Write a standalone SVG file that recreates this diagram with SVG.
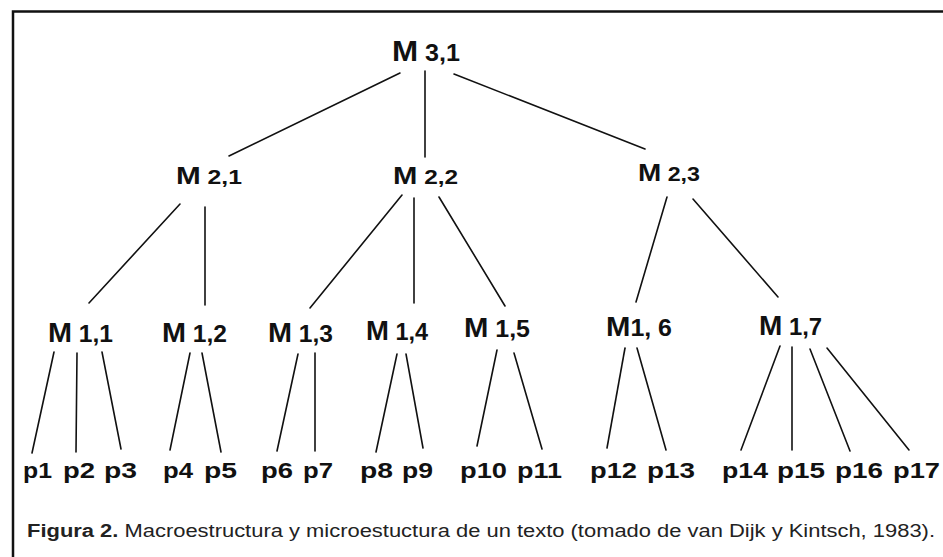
<svg xmlns="http://www.w3.org/2000/svg" width="943" height="557" viewBox="0 0 943 557">
<style>
.bg{fill:#fff}
.frame{stroke:#111;stroke-width:2.5;fill:none}
.edges line{stroke:#111;stroke-width:1.6;stroke-linecap:round}
.m{font-family:"Liberation Sans",Arial,sans-serif;font-weight:bold;fill:#111}
.p{font-family:"Liberation Sans",Arial,sans-serif;font-weight:bold;font-size:22px;fill:#111}
.cap{font-family:"Liberation Sans",Arial,sans-serif;font-size:17.5px;fill:#222}
</style>
<rect class="bg" x="0" y="0" width="943" height="557"/>
<path class="frame" d="M13,557 V11.5 H943"/>
<g id="connectors" class="edges">
<line x1="400" y1="73" x2="229" y2="156"/>
<line x1="425" y1="71" x2="425" y2="157"/>
<line x1="454" y1="74" x2="645" y2="149"/>
<line x1="180" y1="204" x2="89" y2="303"/>
<line x1="205" y1="207" x2="205" y2="305"/>
<line x1="402" y1="195" x2="310" y2="308"/>
<line x1="414" y1="198" x2="414" y2="303"/>
<line x1="439" y1="197" x2="505" y2="306"/>
<line x1="667" y1="197" x2="636" y2="302"/>
<line x1="693" y1="199" x2="778" y2="297"/>
<line x1="54" y1="352" x2="32" y2="453"/>
<line x1="77" y1="353" x2="76" y2="452"/>
<line x1="102" y1="352" x2="121" y2="449"/>
<line x1="190" y1="353" x2="170" y2="450"/>
<line x1="202" y1="353" x2="221" y2="452"/>
<line x1="298" y1="354" x2="277" y2="451"/>
<line x1="315" y1="353" x2="315" y2="451"/>
<line x1="397" y1="354" x2="376" y2="452"/>
<line x1="406" y1="354" x2="423" y2="448"/>
<line x1="497" y1="350" x2="477" y2="446"/>
<line x1="514" y1="353" x2="542" y2="449"/>
<line x1="625" y1="348" x2="607" y2="448"/>
<line x1="637" y1="348" x2="666" y2="450"/>
<line x1="780" y1="346" x2="741" y2="450"/>
<line x1="792" y1="347" x2="792" y2="450"/>
<line x1="810" y1="349" x2="850" y2="451"/>
<line x1="827" y1="348" x2="909" y2="450"/>
</g>
<g id="M31"><text class="m" x="392" y="61" textLength="68" lengthAdjust="spacingAndGlyphs"><tspan font-size="30">M</tspan><tspan font-size="24"> 3,1</tspan></text></g>
<g id="M21"><text class="m" x="176" y="184" textLength="66" lengthAdjust="spacingAndGlyphs"><tspan font-size="24">M</tspan><tspan font-size="20"> 2,1</tspan></text></g>
<g id="M22"><text class="m" x="393" y="184" textLength="65" lengthAdjust="spacingAndGlyphs"><tspan font-size="24">M</tspan><tspan font-size="20"> 2,2</tspan></text></g>
<g id="M23"><text class="m" x="638" y="181" textLength="62" lengthAdjust="spacingAndGlyphs"><tspan font-size="24">M</tspan><tspan font-size="20"> 2,3</tspan></text></g>
<g id="M11"><text class="m" x="48" y="342" textLength="65" lengthAdjust="spacingAndGlyphs"><tspan font-size="27">M</tspan><tspan font-size="23"> 1,1</tspan></text></g>
<g id="M12"><text class="m" x="162" y="342" textLength="65" lengthAdjust="spacingAndGlyphs"><tspan font-size="27">M</tspan><tspan font-size="23"> 1,2</tspan></text></g>
<g id="M13"><text class="m" x="268" y="342" textLength="65" lengthAdjust="spacingAndGlyphs"><tspan font-size="27">M</tspan><tspan font-size="23"> 1,3</tspan></text></g>
<g id="M14"><text class="m" x="366" y="340" textLength="62" lengthAdjust="spacingAndGlyphs"><tspan font-size="27">M</tspan><tspan font-size="23"> 1,4</tspan></text></g>
<g id="M15"><text class="m" x="464" y="337" textLength="66" lengthAdjust="spacingAndGlyphs"><tspan font-size="27">M</tspan><tspan font-size="23"> 1,5</tspan></text></g>
<g id="M16"><text class="m" x="606" y="336" textLength="66" lengthAdjust="spacingAndGlyphs"><tspan font-size="27">M</tspan><tspan font-size="23">1, 6</tspan></text></g>
<g id="M17"><text class="m" x="759" y="335" textLength="63" lengthAdjust="spacingAndGlyphs"><tspan font-size="27">M</tspan><tspan font-size="23"> 1,7</tspan></text></g>
<g id="p1"><text class="p" x="23" y="478" textLength="29" lengthAdjust="spacingAndGlyphs">p1</text></g>
<g id="p2"><text class="p" x="63" y="478" textLength="32" lengthAdjust="spacingAndGlyphs">p2</text></g>
<g id="p3"><text class="p" x="104" y="478" textLength="33" lengthAdjust="spacingAndGlyphs">p3</text></g>
<g id="p4"><text class="p" x="163" y="478" textLength="30" lengthAdjust="spacingAndGlyphs">p4</text></g>
<g id="p5"><text class="p" x="204" y="478" textLength="33" lengthAdjust="spacingAndGlyphs">p5</text></g>
<g id="p6"><text class="p" x="261" y="478" textLength="32" lengthAdjust="spacingAndGlyphs">p6</text></g>
<g id="p7"><text class="p" x="303" y="478" textLength="30" lengthAdjust="spacingAndGlyphs">p7</text></g>
<g id="p8"><text class="p" x="360" y="478" textLength="33" lengthAdjust="spacingAndGlyphs">p8</text></g>
<g id="p9"><text class="p" x="402" y="478" textLength="31" lengthAdjust="spacingAndGlyphs">p9</text></g>
<g id="p10"><text class="p" x="460" y="478" textLength="47" lengthAdjust="spacingAndGlyphs">p10</text></g>
<g id="p11"><text class="p" x="517" y="478" textLength="45" lengthAdjust="spacingAndGlyphs">p11</text></g>
<g id="p12"><text class="p" x="590" y="478" textLength="47" lengthAdjust="spacingAndGlyphs">p12</text></g>
<g id="p13"><text class="p" x="647" y="478" textLength="48" lengthAdjust="spacingAndGlyphs">p13</text></g>
<g id="p14"><text class="p" x="722" y="478" textLength="46" lengthAdjust="spacingAndGlyphs">p14</text></g>
<g id="p15"><text class="p" x="777" y="478" textLength="48" lengthAdjust="spacingAndGlyphs">p15</text></g>
<g id="p16"><text class="p" x="835" y="478" textLength="48" lengthAdjust="spacingAndGlyphs">p16</text></g>
<g id="p17"><text class="p" x="893" y="478" textLength="47" lengthAdjust="spacingAndGlyphs">p17</text></g>
<g id="caption"><text class="cap" x="27" y="537" textLength="908" lengthAdjust="spacingAndGlyphs"><tspan font-weight="bold">Figura 2.</tspan> Macroestructura y microestuctura de un texto (tomado de van Dijk y Kintsch, 1983).</text></g>
</svg>
